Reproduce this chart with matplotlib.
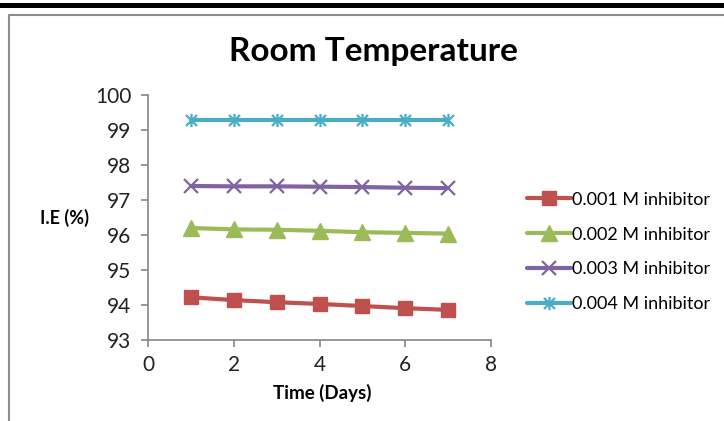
import matplotlib
matplotlib.use("Agg")
import matplotlib.pyplot as plt
from matplotlib.path import Path
from matplotlib.lines import Line2D
from matplotlib.patches import Rectangle

plt.rcParams["font.family"] = ["Lato", "DejaVu Sans"]

# ── Data ──────────────────────────────────────────────────────────────────────
days = [1, 2, 3, 4, 5, 6, 7]
ie_0001 = [94.22, 94.14, 94.08, 94.03, 93.97, 93.91, 93.86]
ie_0002 = [96.20, 96.16, 96.15, 96.12, 96.08, 96.06, 96.04]
ie_0003 = [97.40, 97.39, 97.39, 97.38, 97.37, 97.35, 97.34]
ie_0004 = [99.28, 99.28, 99.28, 99.28, 99.28, 99.28, 99.28]
labels = ["0.001 M inhibitor", "0.002 M inhibitor",
          "0.003 M inhibitor", "0.004 M inhibitor"]

COLOURS = ["#C0504D", "#9BBB59", "#8064A2", "#4BACC6"]

# asterisk marker (x + vertical bar), like Excel's star
star = Path(
    [(-1, -1), (1, 1), (-1, 1), (1, -1), (0, -1.2), (0, 1.2)],
    [Path.MOVETO, Path.LINETO, Path.MOVETO, Path.LINETO, Path.MOVETO, Path.LINETO],
)

fig = plt.figure(figsize=(7.24, 4.21), dpi=100)
fig.patch.set_facecolor("white")

# top black rule and gray chart frame
fig.add_artist(Rectangle((0, 1 - 8 / 421), 1, 5 / 421, transform=fig.transFigure,
                         facecolor="black", edgecolor="none"))
fig.add_artist(Line2D([9 / 724, 9 / 724, 1], [0, 1 - 15 / 421, 1 - 15 / 421],
                      transform=fig.transFigure, color="#8c8c8c", lw=1.5))

ax = fig.add_axes([148 / 724, 1 - 340 / 421, 343 / 724, 245 / 421])

series = [ie_0001, ie_0002, ie_0003, ie_0004]
markers = ["s", "^", "x", star]
msizes = [10.5, 11, 9.5, 9.5]
for vals, lab, col, mk, ms in zip(series, labels, COLOURS, markers, msizes):
    ax.plot(days, vals, color=col, lw=3, marker=mk, markersize=ms,
            markeredgewidth=1.6 if mk in ("x",) or mk is star else 1,
            markeredgecolor=col, markerfacecolor=col, label=lab,
            solid_capstyle="round")

ax.set_xlim(0, 8)
ax.set_ylim(93, 100)
ax.set_xticks([0, 2, 4, 6, 8])
ax.set_yticks(range(93, 101))
for s in ["top", "right"]:
    ax.spines[s].set_visible(False)
for s in ["left", "bottom"]:
    ax.spines[s].set_color("#868686")
    ax.spines[s].set_linewidth(1.2)
ax.tick_params(colors="#868686", labelcolor="#222222", labelsize=15,
               length=5, width=1.2, direction="out")
ax.tick_params(axis="x", pad=6)
ax.tick_params(axis="y", pad=7)

fig.text(373 / 724, 1 - 52 / 421, "Room Temperature", ha="center", va="center",
         fontsize=24, fontweight="bold", color="black")
fig.text(65 / 724, 1 - 218 / 421, "I.E (%)", ha="center", va="center",
         fontsize=13, fontweight="bold", color="black")
fig.text(322 / 724, 1 - 393 / 421, "Time (Days)", ha="center", va="center",
         fontsize=13.5, fontweight="bold", color="black")

ax.legend(loc="center left", bbox_to_anchor=(520 / 724, 1 - 252 / 421),
          bbox_transform=fig.transFigure, frameon=False, fontsize=13,
          handlelength=2.4, handletextpad=0.1, labelspacing=1.05,
          borderaxespad=0)

fig.savefig("out.png", dpi=100)
